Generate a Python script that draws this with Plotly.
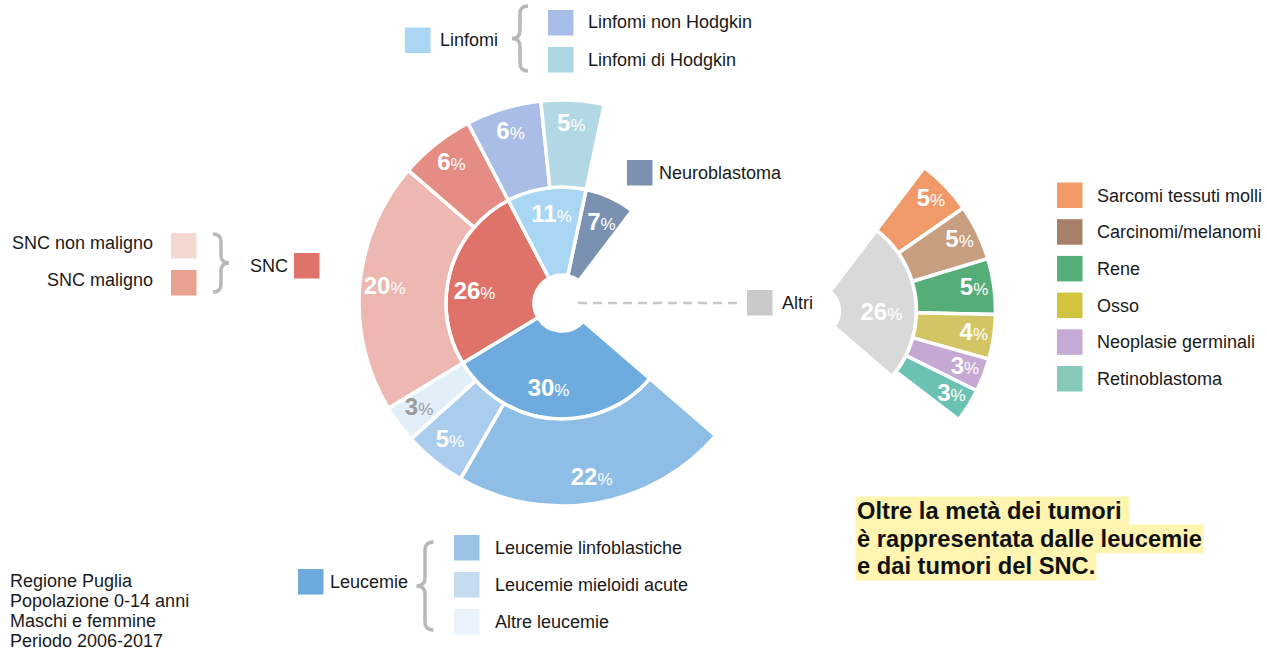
import plotly.graph_objects as go

W, H = 1267, 652

# ---------------- data ----------------
inner_labels = ["Neuroblastoma", "Altri", "Leucemie", "SNC", "Linfomi"]
inner_values = [7, 26, 30, 26, 11]

outer_parents = ["Leucemie", "Leucemie", "Leucemie", "SNC", "SNC", "Linfomi", "Linfomi"]
outer_labels = ["Leucemie linfoblastiche", "Leucemie mieloidi acute", "Altre leucemie",
                "SNC maligno", "SNC non maligno", "Linfomi non Hodgkin", "Linfomi di Hodgkin"]
outer_values = [22, 5, 3, 20, 6, 6, 5]

altri_labels = ["Sarcomi tessuti molli", "Carcinomi/melanomi", "Rene", "Osso",
                "Neoplasie germinali", "Retinoblastoma"]
altri_values = [5, 5, 5, 4, 3, 3]

# ---------------- styles ----------------
inner_colors = {"Neuroblastoma": "#7a91b2", "Altri": "#d9d9d9", "Leucemie": "#6eace0",
                "SNC": "#e07369", "Linfomi": "#a8d6f3"}
# small angular nudges (degrees) of the in-wedge percentage labels
label_nudge = {"Leucemie": 4, "SNC": -9, "Linfomi": 1, "Neuroblastoma": 2, "Altri": 9}
outer_colors = ["#8ebde6", "#aacdee", "#e2eff9", "#ecb8b1", "#e58d84", "#a9bde6", "#b2d8e6"]
outer_text_colors = ["white", "white", "#9b9b9b", "white", "white", "white", "white"]
altri_colors = ["#f09a6a", "#c79e80", "#55ae78", "#d3c464", "#c5a9d4", "#6bc2b3"]

legend_colors = {
    "Linfomi": "#a8d6f3", "Linfomi non Hodgkin": "#a8bde6", "Linfomi di Hodgkin": "#add6e3",
    "Neuroblastoma": "#7a91b1", "SNC non maligno": "#f5d8d2", "SNC maligno": "#e8a091",
    "SNC": "#df736a", "Leucemie": "#6dabdc", "Leucemie linfoblastiche": "#9bc2e6",
    "Leucemie mieloidi acute": "#c4dbf0", "Altre leucemie": "#eaf3fb", "Altri": "#cacaca",
    "Sarcomi tessuti molli": "#f29b69", "Carcinomi/melanomi": "#a68068", "Rene": "#55ad78",
    "Osso": "#d2c43e", "Neoplasie germinali": "#c4aad4", "Retinoblastoma": "#86c8b9",
}

FONT = "Liberation Sans, Arial, sans-serif"
TXT = "#1a1a1a"
START = 12.0      # compass angle where the first inner sector starts
DEG = 3.6         # degrees per percent

# main pie radii (px == radial units)
M_HOLE, M_IN, M_OUT, M_RANGE = 28, 116, 203, 220
M_CX, M_CY = 562, 303
# sub pie radii
S_HOLE, S_IN, S_OUT, S_RANGE = 24, 101, 180, 190
S_CX, S_CY = 815.5, 310.7


def sectors(values, start):
    th, wd, a = [], [], start
    for v in values:
        w = v * DEG
        th.append(a + w / 2)
        wd.append(w)
        a += w
    return th, wd


def pct(v, pct_size=17):
    return f"<b>{v}</b><span style='font-size:{pct_size}px'>%</span>"


th_in, w_in = sectors(inner_values, START)
starts_in = {lab: th - w / 2 for lab, th, w in zip(inner_labels, th_in, w_in)}
th_out, w_out = sectors(outer_values, starts_in[outer_parents[0]])
th_alt, w_alt = sectors(altri_values, starts_in["Altri"])

fig = go.Figure()

# ---- main pie: inner ring (without Altri) ----
keep = [i for i, l in enumerate(inner_labels) if l != "Altri"]
fig.add_trace(go.Barpolar(
    subplot="polar",
    theta=[th_in[i] for i in keep], width=[w_in[i] for i in keep],
    r=[M_IN - M_HOLE] * len(keep), base=[M_HOLE] * len(keep),
    marker=dict(color=[inner_colors[inner_labels[i]] for i in keep],
                line=dict(color="white", width=3.5)),
    hovertext=[inner_labels[i] for i in keep], hoverinfo="text", showlegend=False,
))
# ---- main pie: outer ring ----
fig.add_trace(go.Barpolar(
    subplot="polar",
    theta=th_out, width=w_out,
    r=[M_OUT - M_IN] * len(outer_values), base=[M_IN] * len(outer_values),
    marker=dict(color=outer_colors, line=dict(color="white", width=3.5)),
    hovertext=outer_labels, hoverinfo="text", showlegend=False,
))
fig.add_trace(go.Scatterpolar(
    subplot="polar", mode="text",
    theta=[th_in[i] + label_nudge[inner_labels[i]] for i in keep], r=[88] * len(keep),
    text=[pct(inner_values[i]) for i in keep],
    textfont=dict(family=FONT, size=24, color="white"),
    hoverinfo="skip", showlegend=False,
))
fig.add_trace(go.Scatterpolar(
    subplot="polar", mode="text",
    theta=th_out, r=[178] * len(outer_values),
    text=[pct(v) for v in outer_values],
    textfont=dict(family=FONT, size=24, color=outer_text_colors),
    hoverinfo="skip", showlegend=False,
))

# ---- sub pie (Altri) ----
ia = inner_labels.index("Altri")
fig.add_trace(go.Barpolar(
    subplot="polar2",
    theta=[th_in[ia]], width=[w_in[ia]],
    r=[S_IN - S_HOLE], base=[S_HOLE],
    marker=dict(color=[inner_colors["Altri"]], line=dict(color="white", width=3.5)),
    hovertext=["Altri"], hoverinfo="text", showlegend=False,
))
fig.add_trace(go.Barpolar(
    subplot="polar2",
    theta=th_alt, width=w_alt,
    r=[S_OUT - S_IN] * len(altri_values), base=[S_IN] * len(altri_values),
    marker=dict(color=altri_colors, line=dict(color="white", width=3.5)),
    hovertext=altri_labels, hoverinfo="text", showlegend=False,
))
fig.add_trace(go.Scatterpolar(
    subplot="polar2", mode="text",
    theta=[th_in[ia] + label_nudge["Altri"]], r=[66], text=[pct(inner_values[ia])],
    textfont=dict(family=FONT, size=24, color="white"),
    hoverinfo="skip", showlegend=False,
))
fig.add_trace(go.Scatterpolar(
    subplot="polar2", mode="text",
    theta=th_alt, r=[160] * len(altri_values), text=[pct(v) for v in altri_values],
    textfont=dict(family=FONT, size=24, color="white"),
    hoverinfo="skip", showlegend=False,
))


def px(x):
    return x / W


def py(y):
    return 1 - y / H


def polar_layout(cx, cy, half, rng):
    return dict(
        domain=dict(x=[px(cx - half), px(cx + half)], y=[py(cy + half), py(cy - half)]),
        bgcolor="rgba(0,0,0,0)",
        barmode="overlay",
        angularaxis=dict(visible=False, direction="clockwise", rotation=90,
                         showgrid=False, showline=False, showticklabels=False, ticks=""),
        radialaxis=dict(visible=False, range=[0, rng], showgrid=False, showline=False,
                        showticklabels=False, ticks=""),
    )


shapes, annotations = [], []


def swatch(label, x0, y0, size=25.5):
    shapes.append(dict(type="rect", xref="paper", yref="paper",
                       x0=px(x0), x1=px(x0 + size), y0=py(y0 + size), y1=py(y0),
                       fillcolor=legend_colors[label], line=dict(width=0)))


def text(label, x, y, anchor="left", size=18, bold=False, bg=None, color=TXT):
    t = f"<b>{label}</b>" if bold else label
    a = dict(xref="paper", yref="paper", x=px(x), y=py(y), text=t, showarrow=False,
             xanchor=anchor, yanchor="middle", align="left",
             font=dict(family=FONT, size=size, color=color))
    if bg:
        a.update(bgcolor=bg, borderpad=1)
    annotations.append(a)


def brace(xs, y0, y1, w, side):
    # side="left" -> "{" with tip on left ; "right" -> "}"
    s = -1 if side == "left" else 1
    ym = (y0 + y1) / 2
    r = 8
    end = xs - s * w / 2
    tip = xs + s * w / 2
    pts = [("M", [(end, y0)]),
           ("Q", [(xs, y0), (xs, y0 + r)]),
           ("L", [(xs, ym - r)]),
           ("Q", [(xs, ym), (tip, ym)]),
           ("Q", [(xs, ym), (xs, ym + r)]),
           ("L", [(xs, y1 - r)]),
           ("Q", [(xs, y1), (end, y1)])]
    path = " ".join(c + " " + " ".join(f"{px(x):.5f},{py(y):.5f}" for x, y in p) for c, p in pts)
    shapes.append(dict(type="path", xref="paper", yref="paper", path=path,
                       line=dict(color="#b8b8b8", width=3.5)))


# Linfomi legend
swatch("Linfomi", 405, 27.5)
text("Linfomi", 438, 40)
brace(520, 6, 71, 16, "left")
swatch("Linfomi non Hodgkin", 548, 10)
swatch("Linfomi di Hodgkin", 548, 47)
text("Linfomi non Hodgkin", 586, 22)
text("Linfomi di Hodgkin", 586, 60)

# Neuroblastoma
swatch("Neuroblastoma", 627, 160)
text("Neuroblastoma", 657, 173)

# SNC
text("SNC non maligno", 155, 243, anchor="right")
text("SNC maligno", 155, 280, anchor="right")
swatch("SNC non maligno", 171, 233)
swatch("SNC maligno", 171, 270)
brace(221, 234, 292, 16, "right")
text("SNC", 248, 266)
swatch("SNC", 294, 253)

# Leucemie
swatch("Leucemie", 298, 569)
text("Leucemie", 328, 582)
brace(425, 542, 630, 17, "left")
for lab, yy in zip(outer_labels[:3], [535, 572, 609]):
    swatch(lab, 454, yy)
    text(lab, 493, yy + 13)

# Altri
shapes.append(dict(type="line", xref="paper", yref="paper",
                   x0=px(578), x1=px(741), y0=py(303), y1=py(303),
                   line=dict(color="#c8c8c8", width=2.5, dash="9px,6px")))
swatch("Altri", 747, 290)
text("Altri", 780, 303)

# Altri legend on right
for i, lab in enumerate(altri_labels):
    yy = 182.5 + i * 36.7
    swatch(lab, 1057, yy)
    text(lab, 1095, yy + 13)

# highlight message
HL = "#fff4b0"
for i, line in enumerate(["Oltre la metà dei tumori ", "è rappresentata dalle leucemie",
                          "e dai tumori del SNC."]):
    text(line, 855, 511 + i * 27.5, size=23.7, bold=True, bg=HL, color="#111111")

# footnote
for i, line in enumerate(["Regione Puglia", "Popolazione 0-14 anni", "Maschi e femmine",
                          "Periodo 2006-2017"]):
    text(line, 8, 581 + i * 20, size=18)

fig.update_layout(
    width=W, height=H,
    margin=dict(l=0, r=0, t=0, b=0),
    paper_bgcolor="white", plot_bgcolor="white",
    polar=polar_layout(M_CX, M_CY, M_RANGE, M_RANGE),
    polar2=polar_layout(S_CX, S_CY, S_RANGE, S_RANGE),
    shapes=shapes, annotations=annotations,
    showlegend=False,
    font=dict(family=FONT, color=TXT),
)

fig.write_html("out.html", config=dict(displayModeBar=False),
               post_script="document.body.style.margin='0px';document.body.style.overflow='hidden';")
